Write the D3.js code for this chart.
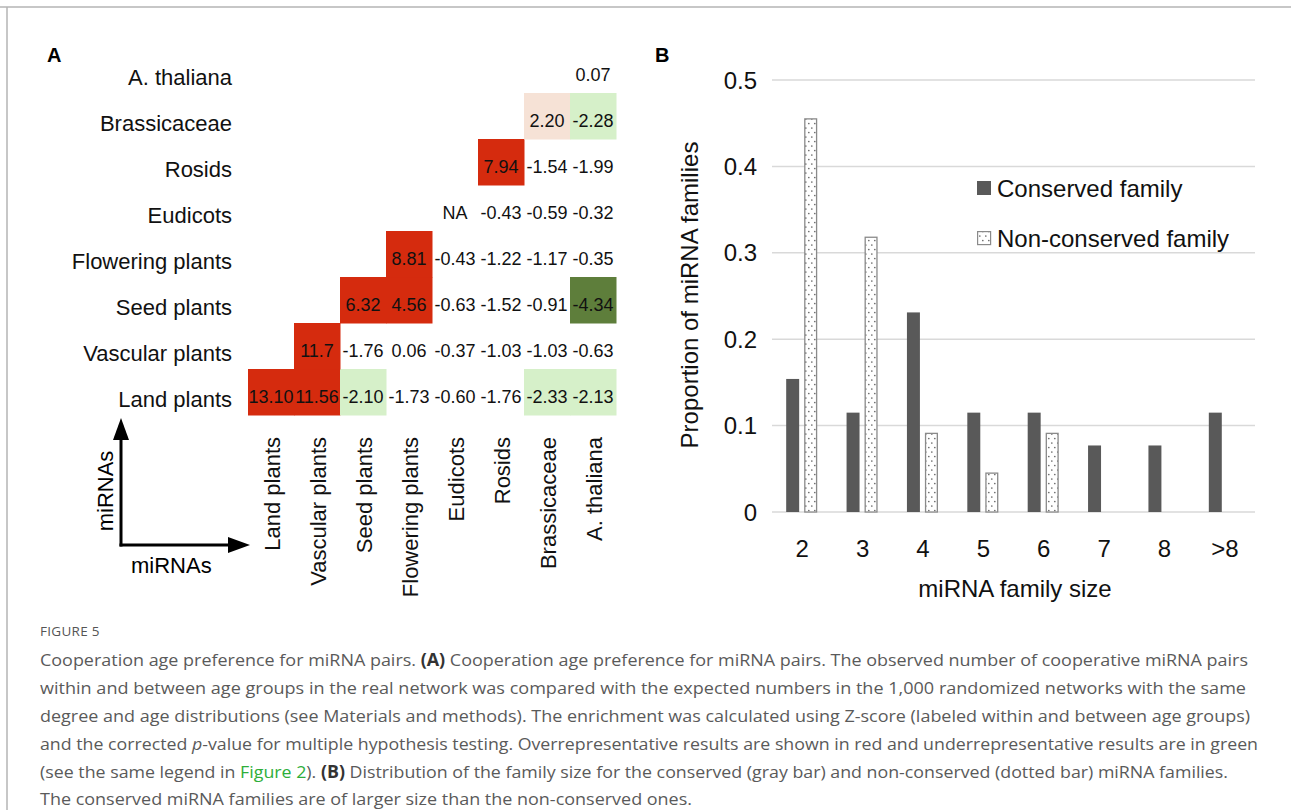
<!DOCTYPE html>
<html><head><meta charset="utf-8">
<script src="https://cdn.jsdelivr.net/npm/d3@7"></script>
<style>body{margin:0;background:#fff} svg{display:block}</style>
</head><body>
<svg id="c" width="1291" height="810"></svg>
<script>
// ---------- Panel A data ----------
const ageGroups = ["Land plants","Vascular plants","Seed plants","Flowering plants","Eudicots","Rosids","Brassicaceae","A. thaliana"];
// row i starts at column i (upper triangle incl. diagonal)
const zRows = [
  ["13.10","11.56","-2.10","-1.73","-0.60","-1.76","-2.33","-2.13"],
  ["11.7","-1.76","0.06","-0.37","-1.03","-1.03","-0.63"],
  ["6.32","4.56","-0.63","-1.52","-0.91","-4.34"],
  ["8.81","-0.43","-1.22","-1.17","-0.35"],
  ["NA","-0.43","-0.59","-0.32"],
  ["7.94","-1.54","-1.99"],
  ["2.20","-2.28"],
  ["0.07"]
];
const sigRows = [
  ["over","over","under","ns","ns","ns","under","under"],
  ["over","ns","ns","ns","ns","ns","ns"],
  ["over","over","ns","ns","ns","strongUnder"],
  ["over","ns","ns","ns","ns"],
  ["ns","ns","ns","ns"],
  ["over","ns","ns"],
  ["weakOver","under"],
  ["ns"]
];
const axisLabel = "miRNAs";

// ---------- Panel B data ----------
const familySizes = ["2","3","4","5","6","7","8",">8"];
const conserved    = [0.154,0.115,0.231,0.115,0.115,0.077,0.077,0.115];
const nonConserved = [0.455,0.318,0.091,0.045,0.091,0,0,0];
const yTicks = [0,0.1,0.2,0.3,0.4,0.5];
const seriesNames = ["Conserved family","Non-conserved family"];

// ---------- Caption ----------
const captionTitle = "FIGURE 5";
const captionLines = [
  [["Cooperation age preference for miRNA pairs. ",""],["(A)","b"],[" Cooperation age preference for miRNA pairs. The observed number of cooperative miRNA pairs",""]],
  [["within and between age groups in the real network was compared with the expected numbers in the 1,000 randomized networks with the same",""]],
  [["degree and age distributions (see Materials and methods). The enrichment was calculated using Z-score (labeled within and between age groups)",""]],
  [["and the corrected ",""],["p","i"],["-value for multiple hypothesis testing. Overrepresentative results are shown in red and underrepresentative results are in green",""]],
  [["(see the same legend in ",""],["Figure 2","g"],["). ",""],["(B)","b"],[" Distribution of the family size for the conserved (gray bar) and non-conserved (dotted bar) miRNA families.",""]],
  [["The conserved miRNA families are of larger size than the non-conserved ones.",""]]
];
const captionWidths = [1208,1206,1210,1218,1188,652];

const FONT = "'Liberation Sans', Arial, Helvetica, sans-serif";
const sigColor = {over:"#d52b0e", weakOver:"#f6e2d6", under:"#d6f0c9", strongUnder:"#5e7e3b", ns:"none"};

const svg = d3.select("#c").style("font-family", FONT);
svg.append("rect").attr("width",1291).attr("height",810).attr("fill","#fff");

// frame
svg.append("line").attr("x1",0).attr("x2",1291).attr("y1",7).attr("y2",7).attr("stroke","#b5b5b5").attr("stroke-width",1.5);
svg.append("line").attr("x1",7).attr("x2",7).attr("y1",7).attr("y2",810).attr("stroke","#b5b5b5").attr("stroke-width",1.5);

// panel letters
svg.append("text").attr("x",47).attr("y",62).attr("font-size",20).attr("font-weight","bold").text("A");
svg.append("text").attr("x",655).attr("y",62).attr("font-size",20).attr("font-weight","bold").text("B");

// ---------- Panel A ----------
const xA = d3.scaleBand().domain(ageGroups).range([248,616]);
const yA = d3.scaleBand().domain(ageGroups).range([415,47]);
const bw = xA.bandwidth();

const cells = [];
zRows.forEach((row,i)=>row.forEach((v,k)=>cells.push({r:ageGroups[i], c:ageGroups[i+k], v, s:sigRows[i][k]})));

const gA = svg.append("g");
gA.selectAll("rect.cell").data(cells.filter(d=>d.s!=="ns")).join("rect")
  .attr("x",d=>xA(d.c)).attr("y",d=>yA(d.r))
  .attr("width",bw+0.5).attr("height",yA.bandwidth()+0.5)
  .attr("fill",d=>sigColor[d.s]);
gA.selectAll("text.val").data(cells).join("text")
  .attr("x",d=>xA(d.c)+bw/2).attr("y",d=>yA(d.r)+yA.bandwidth()/2+11)
  .attr("text-anchor","middle").attr("font-size",18).attr("fill","#111")
  .text(d=>d.v);

// row labels
gA.selectAll("text.row").data(ageGroups).join("text")
  .attr("x",232).attr("y",d=>yA(d)+yA.bandwidth()/2+15)
  .attr("text-anchor","end").attr("font-size",22).attr("fill","#111").text(d=>d);
// column labels
gA.selectAll("text.col").data(ageGroups).join("text")
  .attr("transform",d=>`translate(${xA(d)+bw/2+9},437) rotate(-90)`)
  .attr("text-anchor","end").attr("font-size",22).attr("fill","#111").text(d=>d);

// arrows
const ax = 121, ay = 545;
gA.append("line").attr("x1",ax).attr("y1",ay+1.5).attr("x2",ax).attr("y2",438).attr("stroke","#000").attr("stroke-width",3);
gA.append("path").attr("d",`M${ax-8},440 L${ax},418 L${ax+8},440 Z`).attr("fill","#000");
gA.append("line").attr("x1",ax-1.5).attr("y1",ay).attr("x2",230).attr("y2",ay).attr("stroke","#000").attr("stroke-width",3);
gA.append("path").attr("d",`M228,${ay-8} L250,${ay} L228,${ay+8} Z`).attr("fill","#000");
gA.append("text").attr("transform",`translate(113,491) rotate(-90)`).attr("text-anchor","middle").attr("font-size",22).text(axisLabel);
gA.append("text").attr("x",131).attr("y",573).attr("font-size",22).text(axisLabel);

// ---------- Panel B ----------
const defs = svg.append("defs");
const pat = defs.append("pattern").attr("id","dots").attr("patternUnits","userSpaceOnUse").attr("width",6).attr("height",9);
pat.append("rect").attr("width",6).attr("height",9).attr("fill","#fff");
pat.append("circle").attr("cx",1.8).attr("cy",2).attr("r",0.85).attr("fill","#6e6e6e");
pat.append("circle").attr("cx",4.8).attr("cy",6.5).attr("r",0.85).attr("fill","#6e6e6e");

const xB = d3.scaleBand().domain(familySizes).range([772,1255]);
const xSub = d3.scaleBand().domain(["c","n"]).range([-16,15]).paddingInner(0.28);
const yB = d3.scaleLinear().domain([0,0.5]).range([512,80]);
const gB = svg.append("g");

gB.selectAll("line.grid").data(yTicks).join("line")
  .attr("x1",772).attr("x2",1255).attr("y1",d=>yB(d)).attr("y2",d=>yB(d))
  .attr("stroke","#d9d9d9").attr("stroke-width",1.5);
gB.selectAll("text.yt").data(yTicks).join("text")
  .attr("x",757).attr("y",d=>yB(d)+8.5).attr("text-anchor","end").attr("font-size",24).attr("fill","#111")
  .text(d=>d===0?"0":d3.format(".1f")(d));

const cx = d => xB(d)+xB.bandwidth()/2;
gB.selectAll("rect.cons").data(familySizes.map((k,i)=>({k,v:conserved[i]}))).join("rect")
  .attr("x",d=>cx(d.k)+xSub("c")).attr("width",xSub.bandwidth())
  .attr("y",d=>yB(d.v)).attr("height",d=>yB(0)-yB(d.v))
  .attr("fill","#595959");
gB.selectAll("rect.non").data(familySizes.map((k,i)=>({k,v:nonConserved[i]})).filter(d=>d.v>0)).join("rect")
  .attr("x",d=>cx(d.k)+xSub("n")+0.6).attr("width",xSub.bandwidth()-1.2)
  .attr("y",d=>yB(d.v)).attr("height",d=>yB(0)-yB(d.v))
  .attr("fill","url(#dots)").attr("stroke","#8a8a8a").attr("stroke-width",1.3);

gB.selectAll("text.xt").data(familySizes).join("text")
  .attr("x",d=>cx(d)).attr("y",557).attr("text-anchor","middle").attr("font-size",24).attr("fill","#111").text(d=>d);
gB.append("text").attr("x",1015).attr("y",597).attr("text-anchor","middle").attr("font-size",24).attr("fill","#111").text("miRNA family size");
gB.append("text").attr("transform","translate(698,295) rotate(-90)").attr("text-anchor","middle").attr("font-size",24).attr("fill","#111").text("Proportion of miRNA families");

// legend
gB.append("rect").attr("x",977).attr("y",181).attr("width",14).attr("height",14).attr("fill","#595959");
gB.append("text").attr("x",997).attr("y",196.5).attr("font-size",24).attr("fill","#111").text(seriesNames[0]);
gB.append("rect").attr("x",977.6).attr("y",231.6).attr("width",13).attr("height",13).attr("fill","url(#dots)").attr("stroke","#8a8a8a").attr("stroke-width",1.2);
gB.append("text").attr("x",997).attr("y",246.5).attr("font-size",24).attr("fill","#111").text(seriesNames[1]);

// ---------- Caption ----------
const CAPFONT = "'Open Sans','Noto Sans',sans-serif";
svg.append("text").attr("x",40).attr("y",636).attr("font-family",CAPFONT).attr("font-size",13.5)
  .attr("fill","#555").attr("letter-spacing",0.3).text(captionTitle);
const capY = [666,694,722,750,778,805];
captionLines.forEach((segs,i)=>{
  const t = svg.append("text").attr("x",40).attr("y",capY[i]).attr("font-family",CAPFONT).attr("font-size",17)
    .attr("fill","#5a5a5a").attr("textLength",captionWidths[i]).attr("lengthAdjust","spacingAndGlyphs");
  segs.forEach(([s,f])=>{
    const ts = t.append("tspan").text(s);
    if(f==="b") ts.attr("font-weight","bold").attr("fill","#333");
    if(f==="i") ts.attr("font-style","italic");
    if(f==="g") ts.attr("fill","#2eae3a");
  });
});
</script>
</body></html>
